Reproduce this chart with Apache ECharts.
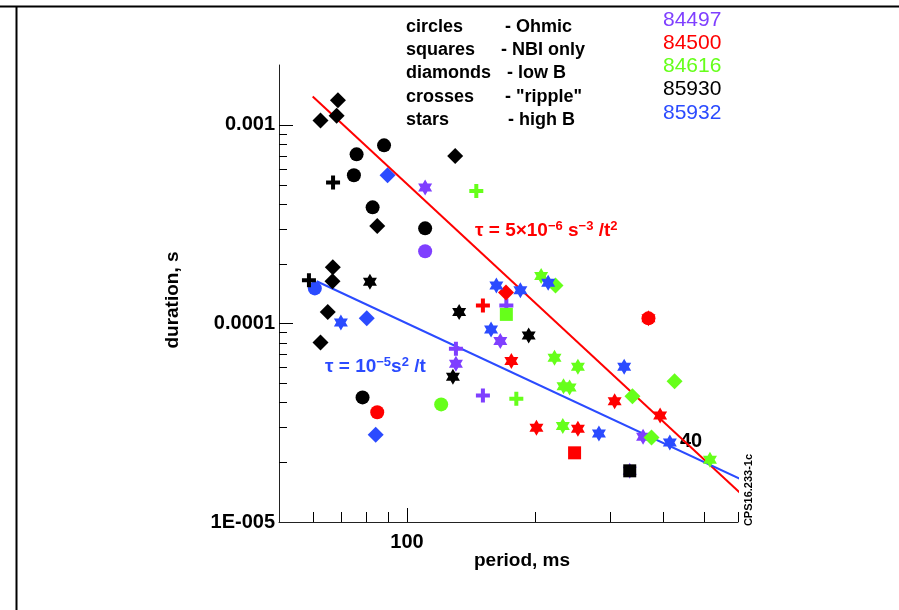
<!DOCTYPE html>
<html><head><meta charset="utf-8">
<script src="https://cdn.jsdelivr.net/npm/echarts@6/dist/echarts.min.js"></script>
<style>html,body{margin:0;padding:0;background:#fff}#c{width:899px;height:610px}</style>
</head><body><div id="c"></div>
<script>
// ---------- data (period ms, duration s) ----------
// run 84497 (purple)
const r84497_circles = [[110.3, 2.31e-4]];
const r84497_crosses = [[130.3, 7.46e-5], [150.8, 4.34e-5], [171.2, 1.23e-4]];
const r84497_stars = [[110.3, 4.83e-4], [130.3, 6.27e-5], [165.7, 8.15e-5], [358.9, 2.69e-5], [333.9, 1.81e-5]];
// run 84500 (red)
const r84500_circles = [[85.1, 3.57e-5], [369.5, 1.06e-4]];
const r84500_squares = [[247.7, 2.23e-5]];
const r84500_diamonds = [[170.9, 1.43e-4]];
const r84500_crosses = [[150.8, 1.23e-4]];
const r84500_stars = [[175.9, 6.46e-5], [201.5, 2.98e-5], [252.2, 2.95e-5], [307.7, 4.06e-5], [369.5, 1.06e-4], [393.6, 3.44e-5]];
// run 84616 (green)
const r84616_circles = [[120.3, 3.91e-5]];
const r84616_squares = [[171.2, 1.11e-4]];
const r84616_diamonds = [[223.4, 1.55e-4], [338.8, 4.30e-5], [425.6, 5.12e-5], [375.6, 2.66e-5]];
const r84616_crosses = [[145.5, 4.64e-4], [180.7, 4.18e-5]];
const r84616_stars = [[206.7, 1.73e-4], [222.2, 6.72e-5], [252.2, 6.05e-5], [233.3, 4.82e-5], [241.1, 4.76e-5], [232.4, 3.04e-5], [515.5, 2.06e-5]];
// run 85930 (black)
const r85930_circles = [[88.3, 7.88e-4], [76.1, 7.10e-4], [75.0, 5.57e-4], [83.0, 3.84e-4], [110.3, 3.01e-4], [78.6, 4.24e-5]];
const r85930_squares = [[333.9, 1.81e-5]];
const r85930_diamonds = [[68.8, 1.33e-3], [68.3, 1.11e-3], [62.6, 1.05e-3], [129.8, 6.96e-4], [85.1, 3.09e-4], [66.9, 1.92e-4], [66.8, 1.63e-4], [65.1, 1.14e-4], [62.6, 8.02e-5]];
const r85930_crosses = [[67.0, 5.12e-4], [58.8, 1.65e-4]];
const r85930_stars = [[81.8, 1.62e-4], [132.6, 1.14e-4], [128.2, 5.39e-5], [193.2, 8.70e-5]];
// run 85932 (blue)
const r85932_circles = [[60.7, 1.50e-4]];
const r85932_diamonds = [[90.0, 5.57e-4], [80.4, 1.06e-4], [84.4, 2.75e-5]];
const r85932_stars = [[69.9, 1.01e-4], [162.2, 1.55e-4], [184.7, 1.47e-4], [157.6, 9.33e-5], [214.7, 1.60e-4], [324.0, 6.05e-5], [282.6, 2.79e-5], [414.9, 2.51e-5]];

// fit lines (end points)
const redFit = [[60.0, 1.387e-3], [609.6, 1.39e-5]];
const blueFit = [[61.3, 1.63e-4], [609.6, 1.64e-5]];

// axes
const xMin = 50, xMax = 600, yMin = 1e-5, yMax = 2e-3;
const xTickValues = [100];
const xTickLabels = ['100'];
const yTickValues = [1e-5, 1e-4, 1e-3];
const yTickLabels = ['1E-005', '0.0001', '0.001'];
const xMinorTicks = [60, 70, 80, 90, 100, 200, 300, 400, 500, 600];
const yMinorTicks = [2e-5, 3e-5, 4e-5, 5e-5, 6e-5, 7e-5, 8e-5, 9e-5, 1e-4, 2e-4, 3e-4, 4e-4, 5e-4, 6e-4, 7e-4, 8e-4, 9e-4, 1e-3];

// legend texts
const shapeNames = ['circles', 'squares', 'diamonds', 'crosses', 'stars'];
const shapeMeanings = ['- Ohmic', '- NBI only', '- low B', '- "ripple"', '- high B'];
const runNames = ['84497', '84500', '84616', '85930', '85932'];

// ---------- styling ----------
const FONT = '"Liberation Sans", Arial, Helvetica, sans-serif';
const C = {purple: '#7f3fff', red: '#ff0000', green: '#66ff1a', black: '#000000', blue: '#2b4bff'};
const runColors = [C.purple, C.red, C.green, C.black, C.blue];
const STAR = 'path://M0,-10L2.887,-5L8.66,-5L5.774,0L8.66,5L2.887,5L0,10L-2.887,5L-8.66,5L-5.774,0L-8.66,-5L-2.887,-5Z';
const CROSS = 'path://M5,0H9V5H14V9H9V14H5V9H0V5H5Z';
const SYM = {
  circles: {symbol: 'circle', size: 14},
  squares: {symbol: 'rect', size: 13},
  diamonds: {symbol: 'diamond', size: 16},
  crosses: {symbol: CROSS, size: 14},
  stars: {symbol: STAR, size: [14, 16]}
};

function sc(name, data, shape, color) {
  return {
    name: name, type: 'scatter', data: data,
    symbol: SYM[shape].symbol, symbolSize: SYM[shape].size,
    itemStyle: {color: color, opacity: 1},
    silent: true, animation: false, z: 5
  };
}

const series = [];
series.push(sc('84497', r84497_circles, 'circles', C.purple));
series.push(sc('84497', r84497_crosses, 'crosses', C.purple));
series.push(sc('84497', r84497_stars, 'stars', C.purple));
series.push(sc('84616', r84616_circles, 'circles', C.green));
series.push(sc('84616', r84616_squares, 'squares', C.green));
series.push(sc('84616', r84616_diamonds, 'diamonds', C.green));
series.push(sc('84616', r84616_crosses, 'crosses', C.green));
series.push(sc('84616', r84616_stars, 'stars', C.green));
series.push(sc('84500', r84500_circles, 'circles', C.red));
series.push(sc('84500', r84500_squares, 'squares', C.red));
series.push(sc('84500', r84500_diamonds, 'diamonds', C.red));
series.push(sc('84500', r84500_crosses, 'crosses', C.red));
series.push(sc('84500', r84500_stars, 'stars', C.red));
series.push(sc('85932', r85932_circles, 'circles', C.blue));
series.push(sc('85932', r85932_diamonds, 'diamonds', C.blue));
series.push(sc('85932', r85932_stars, 'stars', C.blue));
series.push(sc('85930', r85930_circles, 'circles', C.black));
series.push(sc('85930', r85930_squares, 'squares', C.black));
series.push(sc('85930', r85930_diamonds, 'diamonds', C.black));
series.push(sc('85930', r85930_crosses, 'crosses', C.black));
series.push(sc('85930', r85930_stars, 'stars', C.black));

series.push({type: 'line', data: redFit, showSymbol: false, symbol: 'none', clip: false, silent: true, animation: false,
  lineStyle: {color: C.red, width: 2}, z: 4});
series.push({type: 'line', data: blueFit, showSymbol: false, symbol: 'none', clip: false, silent: true, animation: false,
  lineStyle: {color: C.blue, width: 2}, z: 4});

function isDecade(v) { const l = Math.log10(v); return Math.abs(l - Math.round(l)) < 1e-6; }

// tick marks through the axes' scales
series.push({
  type: 'custom', silent: true, animation: false, z: 3, clip: false,
  data: xMinorTicks.map(v => [v, yMin]),
  renderItem: function (params, api) {
    const v = api.value(0);
    const p = api.coord([v, api.value(1)]);
    const len = isDecade(v) ? 14 : 10;
    const x = Math.round(p[0]) + 0.5;
    return {type: 'line', shape: {x1: x, y1: p[1], x2: x, y2: p[1] - len}, style: {stroke: '#000', lineWidth: 1}};
  }
});
series.push({
  type: 'custom', silent: true, animation: false, z: 3, clip: false,
  data: yMinorTicks.map(v => [xMin, v]),
  renderItem: function (params, api) {
    const v = api.value(1);
    const p = api.coord([api.value(0), v]);
    const len = isDecade(v) ? 14 : 8;
    const y = Math.round(p[1]) + 0.5;
    return {type: 'line', shape: {x1: p[0], y1: y, x2: p[0] + len, y2: y}, style: {stroke: '#000', lineWidth: 1}};
  }
});

function labelFor(values, labels) {
  return function (val) {
    for (let i = 0; i < values.length; i++) {
      if (Math.abs(Math.log10(val) - Math.log10(values[i])) < 1e-6) return labels[i];
    }
    return '';
  };
}

const graphics = [];
// frame
graphics.push({type: 'line', shape: {x1: 0, y1: 6.5, x2: 899, y2: 6.5}, style: {stroke: '#000', lineWidth: 2}, silent: true});
graphics.push({type: 'line', shape: {x1: 16.5, y1: 6, x2: 16.5, y2: 610}, style: {stroke: '#000', lineWidth: 2}, silent: true});
// legend block
const legendY = [27, 50, 73, 97, 120];
const meaningX = [505, 501, 507, 505, 508];
for (let i = 0; i < 5; i++) {
  graphics.push({type: 'text', x: 406, y: legendY[i], silent: true,
    style: {text: shapeNames[i], font: 'bold 18px ' + FONT, fill: '#000', textAlign: 'left', textVerticalAlign: 'middle'}});
  graphics.push({type: 'text', x: meaningX[i], y: legendY[i], silent: true,
    style: {text: shapeMeanings[i], font: 'bold 18px ' + FONT, fill: '#000', textAlign: 'left', textVerticalAlign: 'middle'}});
}
const runY = [20, 43, 66, 89, 113];
for (let i = 0; i < 5; i++) {
  graphics.push({type: 'text', x: 663, y: runY[i], silent: true,
    style: {text: runNames[i], font: '21px ' + FONT, fill: runColors[i], textAlign: 'left', textVerticalAlign: 'middle'}});
}
// axis names
graphics.push({type: 'text', x: 173, y: 300, rotation: Math.PI / 2, silent: true,
  style: {text: 'duration, s', font: 'bold 19px ' + FONT, fill: '#000', textAlign: 'center', textVerticalAlign: 'middle'}});
graphics.push({type: 'text', x: 522, y: 561, silent: true,
  style: {text: 'period, ms', font: 'bold 19px ' + FONT, fill: '#000', textAlign: 'center', textVerticalAlign: 'middle'}});
// formulas
graphics.push({type: 'text', x: 475, y: 231, silent: true,
  style: {text: '{a|τ = 5×10}{s|−6}{a| s}{s|−3}{a| /t}{s|2}', fill: C.red, textAlign: 'left', textVerticalAlign: 'middle',
    rich: {a: {font: 'bold 19px ' + FONT, fill: C.red, lineHeight: 22}, s: {font: 'bold 13px ' + FONT, fill: C.red, verticalAlign: 'top', lineHeight: 14}}}});
graphics.push({type: 'text', x: 325, y: 367, silent: true,
  style: {text: '{a|τ = 10}{s|−5}{a|s}{s|2}{a| /t}', fill: C.blue, textAlign: 'left', textVerticalAlign: 'middle',
    rich: {a: {font: 'bold 19px ' + FONT, fill: C.blue, lineHeight: 22}, s: {font: 'bold 13px ' + FONT, fill: C.blue, verticalAlign: 'top', lineHeight: 14}}}});
// annotations
graphics.push({type: 'text', x: 691, y: 441, silent: true,
  style: {text: '40', font: 'bold 20px ' + FONT, fill: '#000', textAlign: 'center', textVerticalAlign: 'middle'}});
graphics.push({type: 'text', x: 749, y: 490, rotation: Math.PI / 2, silent: true,
  style: {text: 'CPS16.233-1c', font: 'bold 11px ' + FONT, fill: '#000', textAlign: 'center', textVerticalAlign: 'middle'}});

const chart = echarts.init(document.getElementById('c'), null, {renderer: 'canvas'});
chart.setOption({
  animation: false,
  backgroundColor: '#ffffff',
  grid: {left: 279, top: 65, width: 459, height: 457, containLabel: false},
  xAxis: {
    type: 'log', logBase: 10, min: xMin, max: xMax,
    axisLine: {show: true, lineStyle: {color: '#222', width: 1}},
    axisTick: {show: false}, splitLine: {show: false}, minorTick: {show: false},
    axisLabel: {show: true, margin: 10, formatter: labelFor(xTickValues, xTickLabels),
      fontFamily: FONT, fontWeight: 'bold', fontSize: 20, color: '#000', showMinLabel: true, showMaxLabel: true}
  },
  yAxis: {
    type: 'log', logBase: 10, min: yMin, max: yMax,
    axisLine: {show: true, lineStyle: {color: '#222', width: 1}},
    axisTick: {show: false}, splitLine: {show: false}, minorTick: {show: false},
    axisLabel: {show: true, margin: 4, formatter: labelFor(yTickValues, yTickLabels),
      fontFamily: FONT, fontWeight: 'bold', fontSize: 20, color: '#000', showMinLabel: true, showMaxLabel: true}
  },
  series: series,
  graphic: graphics
});
</script>
</body></html>
